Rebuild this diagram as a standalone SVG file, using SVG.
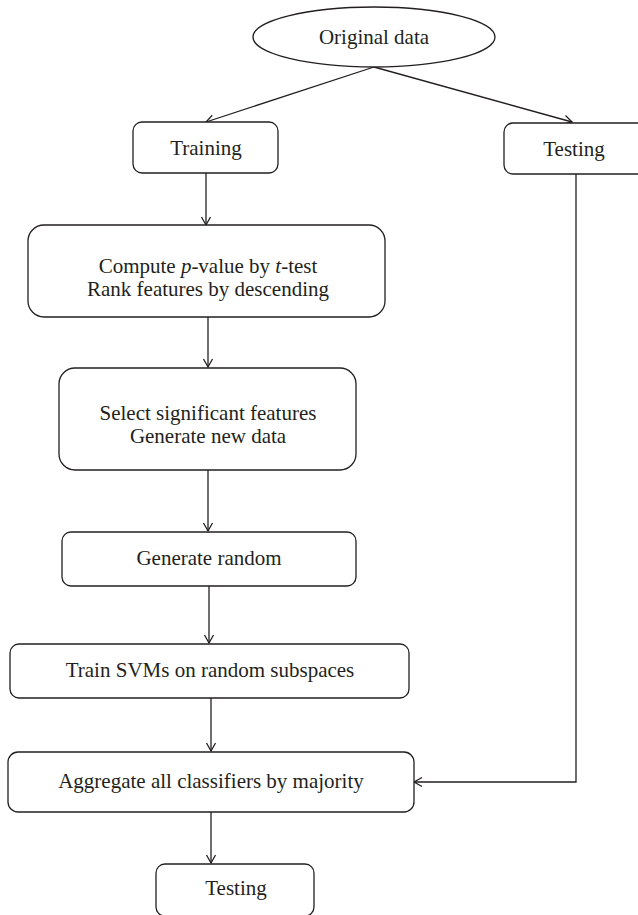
<svg xmlns="http://www.w3.org/2000/svg" width="638" height="915" viewBox="0 0 638 915">
<defs>
<marker id="arr" markerUnits="userSpaceOnUse" markerWidth="12" markerHeight="12" viewBox="0 0 12 12" refX="10" refY="6" orient="auto">
<path d="M2,1.5 L10,6 L2,10.5" fill="none" stroke="#231f20" stroke-width="1.3"/>
</marker>
</defs>
<style>
.n{fill:#fff;stroke:#231f20;stroke-width:1.3}
.t{font-family:"Liberation Serif","Times New Roman",serif;font-size:21px;fill:#231f20;text-anchor:middle}
.c{fill:none;stroke:#231f20;stroke-width:1.3;marker-end:url(#arr)}
</style>
<rect width="638" height="915" fill="#fff"/>
<g id="connectors">
<path class="c" d="M374,67 L206,122"/>
<path class="c" d="M374,67 L572,122"/>
<path class="c" d="M206,173 L206,225"/>
<path class="c" d="M208,317 L208,367"/>
<path class="c" d="M208,470 L208,531"/>
<path class="c" d="M209,586 L209,643"/>
<path class="c" d="M211,698 L211,751"/>
<path class="c" d="M576,174 L576,782 L414,782"/>
<path class="c" d="M211,812 L211,863"/>
</g>
<g id="original">
<ellipse class="n" cx="374" cy="37" rx="121" ry="30"/>
<text class="t" x="374" y="44">Original data</text>
</g>
<g id="training">
<rect class="n" x="133" y="122" width="145" height="51" rx="9"/>
<text class="t" x="206" y="155">Training</text>
</g>
<g id="testing1">
<rect class="n" x="504" y="123" width="145" height="51" rx="9"/>
<text class="t" x="574" y="156">Testing</text>
</g>
<g id="compute">
<rect class="n" x="28" y="225" width="357" height="92" rx="16"/>
<text class="t" x="208" y="273">Compute <tspan font-style="italic">p</tspan>-value by <tspan font-style="italic">t</tspan>-test</text>
<text class="t" x="208" y="296">Rank features by descending</text>
</g>
<g id="select">
<rect class="n" x="59" y="368" width="297" height="102" rx="16"/>
<text class="t" x="208" y="420">Select significant features</text>
<text class="t" x="208" y="443">Generate new data</text>
</g>
<g id="generate">
<rect class="n" x="62" y="532" width="294" height="54" rx="9"/>
<text class="t" x="209" y="565">Generate random</text>
</g>
<g id="train">
<rect class="n" x="10" y="644" width="399" height="54" rx="9"/>
<text class="t" x="210" y="677">Train SVMs on random subspaces</text>
</g>
<g id="aggregate">
<rect class="n" x="8" y="752" width="406" height="60" rx="10"/>
<text class="t" x="211" y="788">Aggregate all classifiers by majority</text>
</g>
<g id="testing2">
<rect class="n" x="156" y="864" width="158" height="52" rx="9"/>
<text class="t" x="236" y="895">Testing</text>
</g>
</svg>
